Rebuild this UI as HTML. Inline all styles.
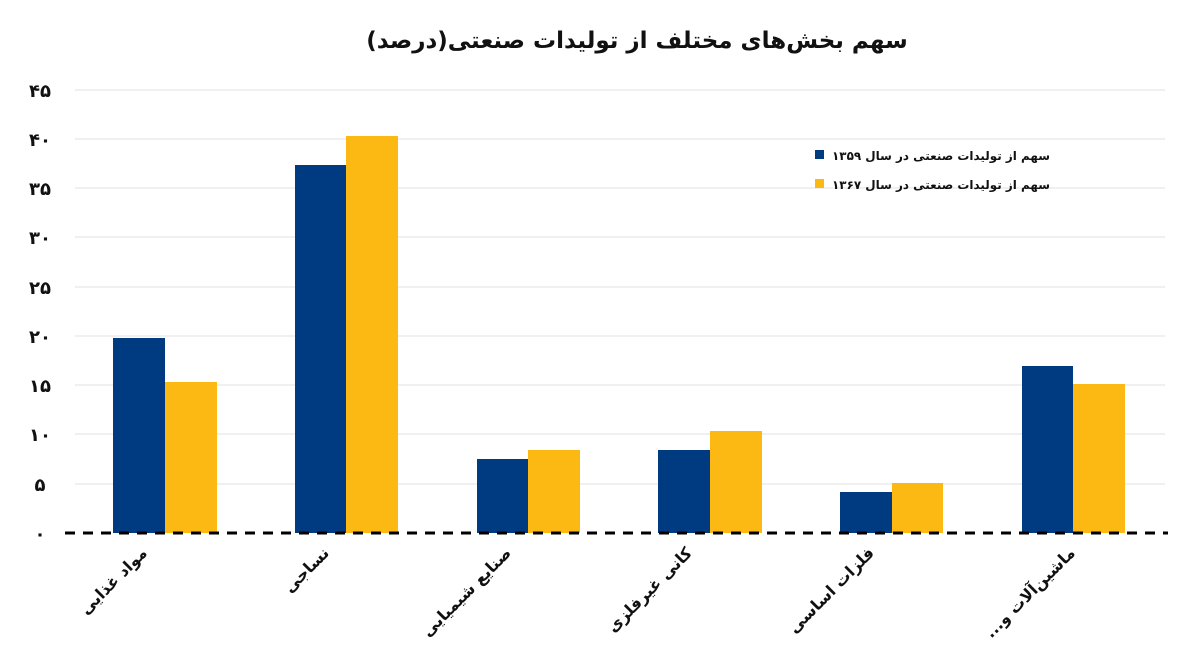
<!DOCTYPE html>
<html><head><meta charset="utf-8"><style>
body{margin:0;background:#fff;}
text{font-family:"DejaVu Sans","Liberation Sans",sans-serif;font-weight:bold;fill:#111;}
</style></head><body>
<svg width="1200" height="663" viewBox="0 0 1200 663" xmlns="http://www.w3.org/2000/svg">
<rect width="1200" height="663" fill="#fff"/>
<text x="637" y="48" text-anchor="middle" font-size="23">سهم بخش‌های مختلف  از تولیدات صنعتی(درصد)</text>
<g stroke="#e2e2e2" stroke-width="1">
<line x1="75" x2="1165" y1="90" y2="90"/><line x1="75" x2="1165" y1="139" y2="139"/>
<line x1="75" x2="1165" y1="188" y2="188"/><line x1="75" x2="1165" y1="237" y2="237"/>
<line x1="75" x2="1165" y1="287" y2="287"/><line x1="75" x2="1165" y1="336" y2="336"/>
<line x1="75" x2="1165" y1="385" y2="385"/><line x1="75" x2="1165" y1="434" y2="434"/>
<line x1="75" x2="1165" y1="484" y2="484"/>
</g>
<g font-size="18" text-anchor="middle">
<text x="40" y="97">۴۵</text><text x="40" y="146">۴۰</text><text x="40" y="195">۳۵</text>
<text x="40" y="244">۳۰</text><text x="40" y="294">۲۵</text><text x="40" y="343">۲۰</text>
<text x="40" y="392">۱۵</text><text x="40" y="441">۱۰</text><text x="40" y="491">۵</text>
<text x="40" y="540">۰</text>
</g>
<g fill="#003a80">
<rect x="113" y="338" width="52" height="195"/>
<rect x="295" y="165" width="51" height="368"/>
<rect x="477" y="459" width="51" height="74"/>
<rect x="658" y="450" width="52" height="83"/>
<rect x="840" y="492" width="52" height="41"/>
<rect x="1022" y="366" width="51" height="167"/>
</g>
<g fill="#fdb913">
<rect x="165" y="382" width="52" height="151"/>
<rect x="346" y="136" width="52" height="397"/>
<rect x="528" y="450" width="52" height="83"/>
<rect x="710" y="431" width="52" height="102"/>
<rect x="892" y="483" width="51" height="50"/>
<rect x="1073" y="384" width="52" height="149"/>
</g>
<line x1="65" x2="1168" y1="533" y2="533" stroke="#000" stroke-width="3" stroke-dasharray="10,8"/>
<rect x="815" y="150" width="9" height="9" fill="#003a80"/>
<rect x="815" y="179" width="9" height="9" fill="#fdb913"/>
<g font-size="12" direction="rtl">
<text x="1050" y="160" text-anchor="start" textLength="218" lengthAdjust="spacingAndGlyphs">سهم از تولیدات صنعتی در سال ۱۳۵۹</text>
<text x="1050" y="189" text-anchor="start" textLength="218" lengthAdjust="spacingAndGlyphs">سهم از تولیدات صنعتی در سال ۱۳۶۷</text>
</g>
<g font-size="16" text-anchor="start" direction="rtl">
<text transform="translate(148,554) rotate(-45)">مواد غذایی</text>
<text transform="translate(330,554) rotate(-45)">نساجی</text>
<text transform="translate(512,554) rotate(-45)">صنایع شیمیایی</text>
<text transform="translate(693,554) rotate(-45)">کانی غیرفلزی</text>
<text transform="translate(875,554) rotate(-45)">فلزات اساسی</text>
<text transform="translate(1076,554) rotate(-45)">ماشین‌آلات و...</text>
</g>
</svg>
</body></html>
